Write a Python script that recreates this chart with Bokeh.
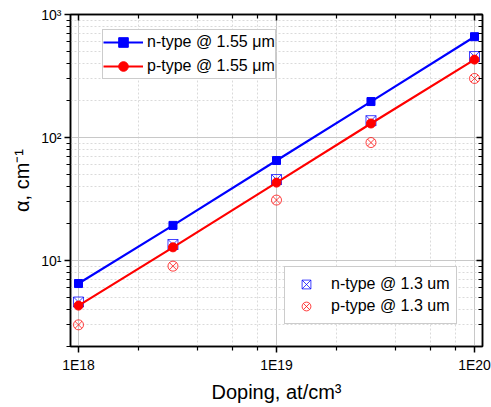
from bokeh.plotting import figure
from bokeh.models import (FixedTicker, LogAxis, Legend, LegendItem, Range1d,
                          CustomJSTickFormatter)
from bokeh.embed import file_html
from bokeh.resources import INLINE

# ---- data ----
doping = [1e18, 3e18, 1e19, 3e19, 1e20]
n_155 = [6.5, 19.3, 65, 196, 660]
p_155 = [4.3, 12.8, 43, 130, 430]
n_13 = [4.6, 13.5, 45.5, 137, 455]
p_13 = [3.0, 9.0, 31, 91, 302]

x_major = [1e18, 1e19, 1e20]
x_minor = [m * d for d in [1e17, 1e18, 1e19, 1e20] for m in [2, 4, 6, 8]]
x_labels = ["1E18", "1E19", "1E20"]
y_major = [1, 10, 100, 1000]
y_minor = [m * d for d in [1, 10, 100] for m in range(2, 10)]
y_labels = ["10⁰", "10¹", "10²", "10³"]

FONT = "Liberation Sans"
BLUE = "#0000ff"
RED = "#ff0000"

p = figure(width=491, height=407, x_axis_type="log", y_axis_type="log",
           output_backend="svg", toolbar_location=None,
           x_range=Range1d(10 ** 17.9596, 10 ** 20.0404),
           y_range=Range1d(2.0, 1000),
           min_border_left=70, min_border_right=9,
           min_border_top=14, min_border_bottom=61)
p.background_fill_color = "white"
p.border_fill_color = "white"
p.outline_line_color = "black"
p.outline_line_width = 1.5

xt = FixedTicker(ticks=x_major, minor_ticks=x_minor)
yt = FixedTicker(ticks=y_major, minor_ticks=y_minor)

fmt_code = """
let best = -1, bd = 1e9;
for (let k = 0; k < vals.length; k++) {
  const d = Math.abs(Math.log10(vals[k]) - Math.log10(tick));
  if (d < bd) { bd = d; best = k; }
}
return (best >= 0 && bd < 1e-6) ? labs[best] : "";
"""

# main axes
xa = p.below[0]
ya = p.left[0]
xa.ticker = xt
ya.ticker = yt
xa.formatter = CustomJSTickFormatter(args=dict(vals=x_major, labs=x_labels), code=fmt_code)
ya.formatter = CustomJSTickFormatter(args=dict(vals=y_major, labs=y_labels), code=fmt_code)
for ax in (xa, ya):
    ax.axis_line_color = "black"
    ax.axis_line_width = 1.5
    ax.major_tick_line_color = "black"
    ax.minor_tick_line_color = "black"
    ax.major_tick_line_width = 1.5
    ax.minor_tick_line_width = 1.2
    ax.major_tick_in = 0
    ax.major_tick_out = 6
    ax.minor_tick_in = 0
    ax.minor_tick_out = 4
    ax.major_label_text_font = FONT
    ax.major_label_text_font_size = "14px"
    ax.major_label_text_color = "black"
    ax.axis_label_text_font = FONT
    ax.axis_label_text_font_size = "20px"
    ax.axis_label_text_font_style = "normal"
    ax.axis_label_text_color = "black"
xa.major_label_standoff = 4
ya.major_label_standoff = 3
xa.axis_label = "Doping, at/cm³"
ya.axis_label = "α, cm⁻¹"
xa.axis_label_standoff = 5
ya.axis_label_standoff = 5

# mirror axes (ticks inward, no labels)
for loc, tick in (("right", yt), ("above", xt)):
    ax = LogAxis(ticker=tick)
    ax.axis_line_color = "black"
    ax.axis_line_width = 1.5
    ax.major_tick_line_color = "black"
    ax.minor_tick_line_color = "black"
    ax.major_tick_line_width = 1.5
    ax.minor_tick_line_width = 1.2
    ax.major_tick_in = 6
    ax.major_tick_out = 0
    ax.minor_tick_in = 4
    ax.minor_tick_out = 0
    ax.major_label_text_font_size = "0px"
    ax.major_label_standoff = 0
    ax.major_label_text_alpha = 0
    p.add_layout(ax, loc)

# grids
for g in (p.xgrid[0], p.ygrid[0]):
    g.grid_line_color = "#c8c8c8"
    g.grid_line_width = 1
    g.minor_grid_line_color = "#dadada"
    g.minor_grid_line_dash = "2 2"
    g.minor_grid_line_width = 1
p.xgrid[0].ticker = xt
p.ygrid[0].ticker = yt

# open markers (1.3 um)
r_n13 = p.scatter(doping, n_13, marker="square_x", size=10, fill_color=None,
                  line_color=BLUE, line_width=1, line_alpha=0.75)
r_p13 = p.scatter(doping, p_13, marker="circle_x", size=10, fill_color=None,
                  line_color=RED, line_width=1, line_alpha=0.75)

# lines + filled markers (1.55 um)
l_n = p.line(doping, n_155, line_color=BLUE, line_width=2.2)
s_n = p.scatter(doping, n_155, marker="square", size=8, fill_color=BLUE,
                line_color=BLUE)
l_p = p.line(doping, p_155, line_color=RED, line_width=2.2)
s_p = p.scatter(doping, p_155, marker="circle", size=9, fill_color=RED,
                line_color=RED)

leg1 = Legend(items=[LegendItem(label="n-type @ 1.55 μm", renderers=[l_n, s_n]),
                     LegendItem(label="p-type @ 1.55 μm", renderers=[l_p, s_p])],
              location=(32, 267))
leg2 = Legend(items=[LegendItem(label="n-type @ 1.3 um", renderers=[r_n13]),
                     LegendItem(label="p-type @ 1.3 um", renderers=[r_p13])],
              location=(214, 22))
for lg in (leg1, leg2):
    lg.label_text_font = FONT
    lg.label_text_font_size = "16px"
    lg.label_text_color = "black"
    lg.border_line_color = "#999999"
    lg.border_line_width = 1
    lg.background_fill_color = "white"
    lg.background_fill_alpha = 1
    lg.margin = 0
    lg.spacing = 0
leg1.padding = 0
leg1.label_height = 24
leg1.glyph_height = 24
leg1.glyph_width = 40
leg1.label_standoff = 4
leg2.padding = 6
leg2.label_height = 22
leg2.glyph_height = 22
leg2.glyph_width = 30
leg2.label_standoff = 10
p.add_layout(leg1, "center")
p.add_layout(leg2, "center")

open("out.html", "w").write(file_html(p, INLINE))
